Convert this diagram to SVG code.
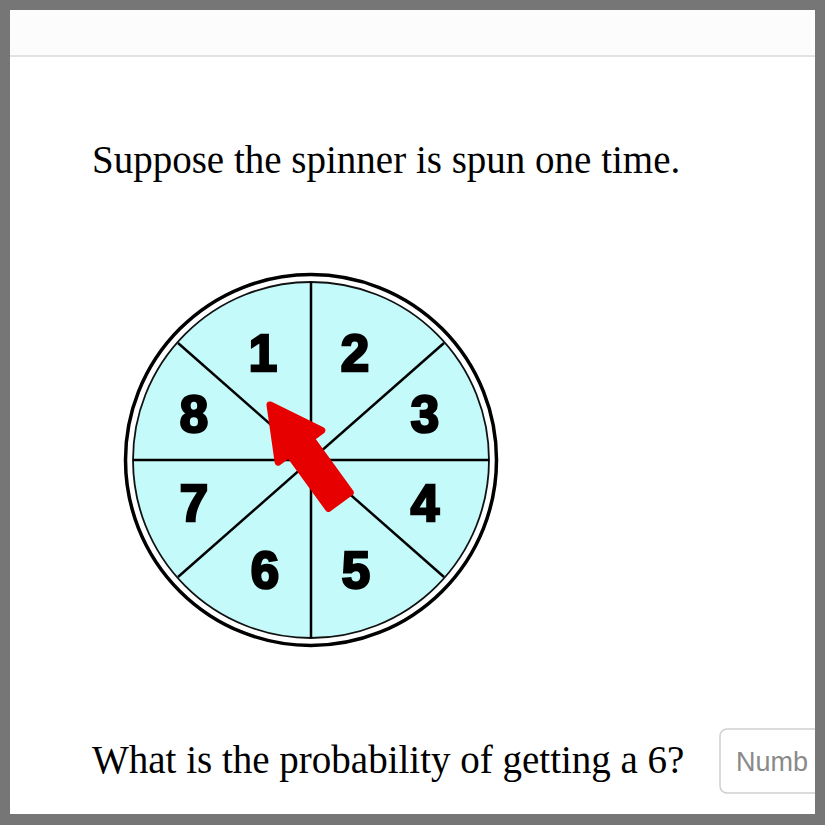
<svg xmlns="http://www.w3.org/2000/svg" width="825" height="825" viewBox="0 0 825 825">
<style>
.q{font-family:"Liberation Serif","Times New Roman",serif;font-size:39px;fill:#000}
.n{font-family:"Liberation Sans",Arial,sans-serif;font-weight:bold;font-size:51px;fill:#000;stroke:#000;stroke-width:2.6px;text-anchor:middle;dominant-baseline:central}
.div{stroke:#000;stroke-width:2.5;fill:none}
</style>
<rect x="0" y="0" width="825" height="825" fill="#767676"/>
<rect x="10" y="10" width="805" height="804" fill="#fff"/>
<rect x="10" y="10" width="805" height="45" fill="#fcfcfc"/>
<line x1="10" y1="56" x2="815" y2="56" stroke="#e2e2e2" stroke-width="2"/>
<text class="q" x="92" y="173">Suppose the spinner is spun one time.</text>
<g id="spinner">
<circle cx="311" cy="460" r="185.5" fill="#fff" stroke="#000" stroke-width="3.5"/>
<circle cx="311" cy="460" r="178" fill="#c4fafa" stroke="#111" stroke-width="1.8"/>
</g>
<g id="dividers">
<line class="div" x1="311" y1="282" x2="311" y2="638"/>
<line class="div" x1="133" y1="460" x2="489" y2="460"/>
<line class="div" x1="178" y1="343" x2="444" y2="577"/>
<line class="div" x1="178" y1="577" x2="444" y2="343"/>
</g>
<g id="labels">
<text class="n" x="263" y="353">1</text>
<text class="n" x="355" y="353">2</text>
<text class="n" x="425" y="414">3</text>
<text class="n" x="425" y="503">4</text>
<text class="n" x="356" y="570">5</text>
<text class="n" x="265" y="570">6</text>
<text class="n" x="194" y="503">7</text>
<text class="n" x="194" y="414">8</text>
</g>
<g id="arrow" transform="translate(270,405) rotate(-36)">
<path d="M0,0 L27,51 L13.5,51 L13.5,118 L-13.5,118 L-13.5,51 L-27,51 Z" fill="#e60000" stroke="#e60000" stroke-width="7" stroke-linejoin="round"/>
</g>
<text class="q" x="92" y="773">What is the probability of getting a 6?</text>
<g id="input">
<rect x="720" y="729" width="120" height="64" rx="7" fill="#fff" stroke="#cfcfcf" stroke-width="1.5"/>
<text x="736" y="771" font-family="Liberation Sans,Arial,sans-serif" font-size="27" fill="#8a8a8a">Numb</text>
</g>
<rect x="815" y="0" width="10" height="825" fill="#767676"/>
<rect x="0" y="814" width="825" height="11" fill="#767676"/>
</svg>
